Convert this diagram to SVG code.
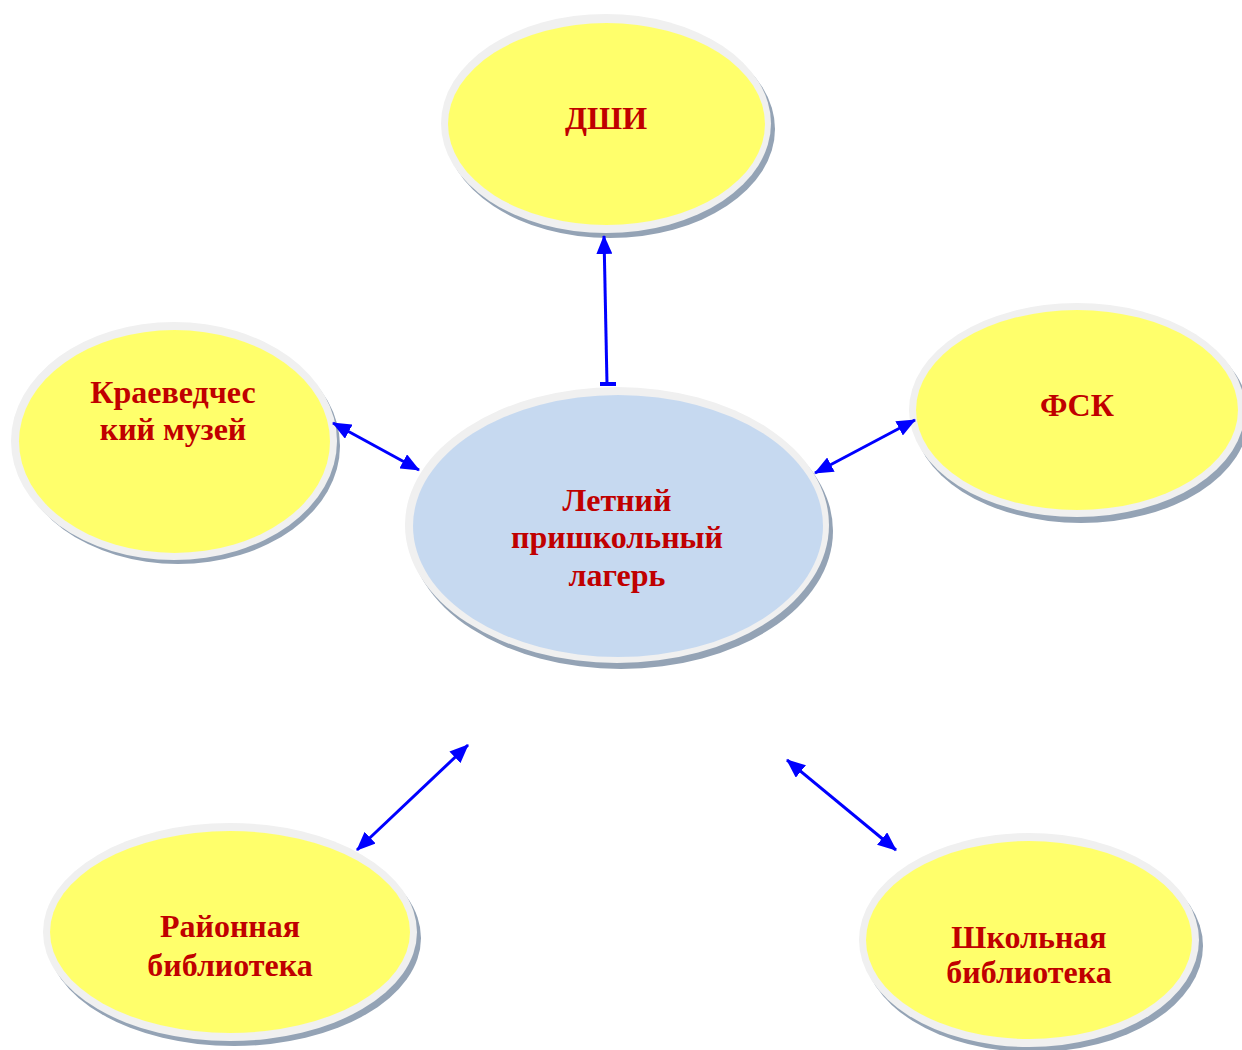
<svg xmlns="http://www.w3.org/2000/svg" width="1242" height="1050" viewBox="0 0 1242 1050">
<style>
.sh{fill:#94a3b5}
.ring{fill:#f0f0f0}
.y{fill:#ffff6b}
.b{fill:#c6d9f0}
.t{font-family:"Liberation Serif","Times New Roman",serif;font-weight:bold;font-size:32px;fill:#c00000;text-anchor:middle}
.c{stroke:#0000ff;stroke-width:3;fill:none;marker-start:url(#ah);marker-end:url(#ah)}
</style>
<defs>
<marker id="ah" markerUnits="userSpaceOnUse" markerWidth="19" markerHeight="16" refX="18" refY="8" orient="auto-start-reverse" viewBox="0 0 19 16">
<path d="M0,0 L19,8 L0,16 z" fill="#0000ff"/>
</marker>
</defs>
<rect width="1242" height="1050" fill="#ffffff"/>
<g id="node-dshi">
<ellipse class="sh" cx="610" cy="129" rx="165" ry="109"/>
<ellipse class="ring" cx="606" cy="123.5" rx="165" ry="109.5"/>
<ellipse class="y" cx="606.5" cy="124" rx="158.5" ry="101"/>
<text class="t" x="606" y="129">ДШИ</text>
</g>
<g id="node-museum">
<ellipse class="sh" cx="178" cy="446" rx="162" ry="118"/>
<ellipse class="ring" cx="174" cy="441" rx="163" ry="119"/>
<ellipse class="y" cx="174.5" cy="441.5" rx="155.5" ry="111.5"/>
<text class="t" x="173" y="403">Краеведчес</text>
<text class="t" x="173" y="440">кий музей</text>
</g>
<g id="node-fsk">
<ellipse class="sh" cx="1081" cy="416" rx="168" ry="107"/>
<ellipse class="ring" cx="1077" cy="410" rx="168" ry="107"/>
<ellipse class="y" cx="1077" cy="410" rx="161" ry="100"/>
<text class="t" x="1077" y="416">ФСК</text>
</g>
<g id="node-camp">
<ellipse class="sh" cx="621" cy="531" rx="212" ry="138"/>
<ellipse class="ring" cx="617" cy="525" rx="212" ry="138"/>
<ellipse class="b" cx="618" cy="526" rx="205" ry="131"/>
<text class="t" x="617" y="511">Летний</text>
<text class="t" x="617" y="548">пришкольный</text>
<text class="t" x="617" y="586">лагерь</text>
</g>
<g id="node-district-library">
<ellipse class="sh" cx="234" cy="938" rx="187" ry="108"/>
<ellipse class="ring" cx="230" cy="932" rx="187" ry="109"/>
<ellipse class="y" cx="230" cy="932" rx="180" ry="101"/>
<text class="t" x="230" y="937">Районная</text>
<text class="t" x="230" y="976">библиотека</text>
</g>
<g id="node-school-library">
<ellipse class="sh" cx="1033" cy="946" rx="170" ry="106"/>
<ellipse class="ring" cx="1029" cy="940" rx="170" ry="107"/>
<ellipse class="y" cx="1029" cy="940" rx="163" ry="99"/>
<text class="t" x="1029" y="948">Школьная</text>
<text class="t" x="1029" y="983">библиотека</text>
</g>
<g id="connectors">
<path d="M607,384 L604,236" stroke="#0000ff" stroke-width="3" fill="none" marker-end="url(#ah)"/>
<rect x="600" y="382" width="16" height="4" fill="#0000ff"/>
<path class="c" d="M333,423 L419,470"/>
<path class="c" d="M915,420 L815,473"/>
<path class="c" d="M468,745 L357,850"/>
<path class="c" d="M787,760 L896,850"/>
</g>
</svg>
